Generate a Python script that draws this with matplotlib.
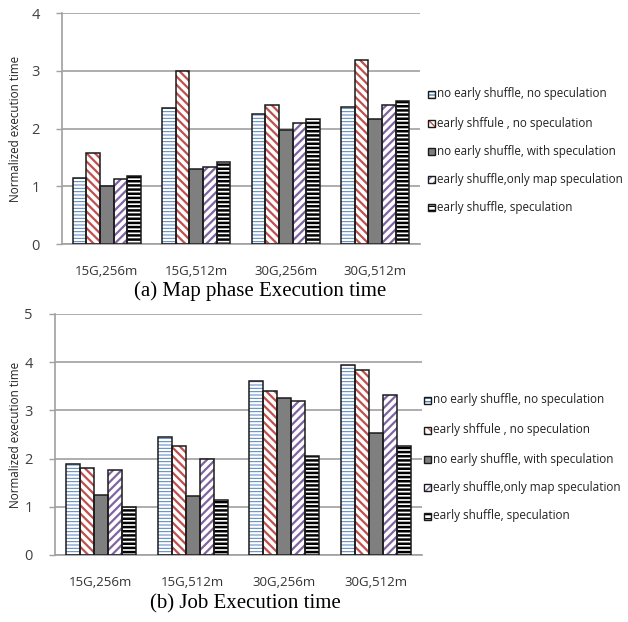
import matplotlib
matplotlib.use('Agg')
import matplotlib.pyplot as plt
import numpy as np
from matplotlib.patches import Rectangle

plt.rcParams['font.family'] = ['Open Sans', 'DejaVu Sans']

categories = ['15G,256m', '15G,512m', '30G,256m', '30G,512m']
series_labels = ['no early shuffle, no speculation',
                 'early shffule , no speculation',
                 'no early shuffle, with speculation',
                 'early shuffle,only map speculation',
                 'early shuffle, speculation']

# (a) map phase
map_no_shuffle_no_spec = [1.15, 2.36, 2.25, 2.38]
map_early_no_spec = [1.57, 3.00, 2.40, 3.18]
map_no_shuffle_spec = [1.00, 1.30, 1.98, 2.17]
map_early_map_spec = [1.13, 1.34, 2.09, 2.40]
map_early_spec = [1.17, 1.42, 2.17, 2.48]

# (b) whole job
job_no_shuffle_no_spec = [1.89, 2.44, 3.60, 3.94]
job_early_no_spec = [1.80, 2.26, 3.40, 3.83]
job_no_shuffle_spec = [1.24, 1.22, 3.26, 2.54]
job_early_map_spec = [1.76, 1.99, 3.19, 3.31]
job_early_spec = [1.00, 1.14, 2.05, 2.26]

# face, hatch, hatch colour, hatch width
styles = [('white', '-----', '#4F81BD', 0.7),
          ('white', '\\\\\\\\', '#C0504D', 1.6),
          ('#7F7F7F', '', '#7F7F7F', 1.0),
          ('white', '////', '#8064A2', 1.6),
          ('white', '----', 'black', 1.8)]

grey = '#A0A0A0'
text_col = '#404040'
width = 0.153
W, H = 628, 622


def fx(px):
    return px / W


def fy(py):
    return 1 - py / H


def draw_legend(x0, ys, fs, box=7):
    for i, lab in enumerate(series_labels):
        face, hatch, hcol, hlw = styles[i]
        yc = ys[i]
        with plt.rc_context({'hatch.linewidth': 1.0}):
            r = Rectangle((fx(x0), fy(yc + box / 2)), box / W, box / H,
                          facecolor=face, edgecolor=hcol, hatch=hatch,
                          linewidth=0, transform=fig.transFigure)
        fig.patches.append(r)
        fig.patches.append(Rectangle((fx(x0), fy(yc + box / 2)), box / W, box / H,
                                     fill=False, edgecolor='#1a1a1a', linewidth=1.0,
                                     transform=fig.transFigure))
        fig.text(fx(x0 + box + 2), fy(yc), lab, fontsize=fs, color='#222222',
                 ha='left', va='center')


def draw_panel(ax, series, ymax, caption, cap_xy, label_x):
    x = np.arange(len(categories))
    for i, vals in enumerate(series):
        face, hatch, hcol, hlw = styles[i]
        pos = x + (i - 2) * width
        with plt.rc_context({'hatch.linewidth': hlw}):
            bars = ax.bar(pos, vals, width, color=face, edgecolor=hcol,
                          hatch=hatch, linewidth=0, zorder=2)
            for b in bars:
                if hasattr(b, 'set_hatch_linewidth'):
                    b.set_hatch_linewidth(hlw)
        ax.bar(pos, vals, width, fill=False, edgecolor='#1a1a1a',
               linewidth=1.1, zorder=3)

    ax.set_xlim(-0.5, len(categories) - 0.5)
    ax.set_ylim(0, ymax)
    ax.set_yticks(range(ymax + 1))
    ax.set_xticks(x)
    ax.set_xticklabels(categories, fontsize=9.5, color='#333333')
    ax.tick_params(axis='x', length=0, pad=15)
    ax.tick_params(axis='y', length=4, width=1, color=grey, pad=12,
                   labelsize=10.5, labelcolor=text_col)
    ax.grid(axis='y', color=grey, linewidth=1.2, zorder=0)
    ax.set_axisbelow(True)
    for s in ['top', 'right']:
        ax.spines[s].set_visible(False)
    for s in ['left', 'bottom']:
        ax.spines[s].set_color(grey)
        ax.spines[s].set_linewidth(1.2)
    ax.set_ylabel('Normalized execution time', fontsize=8.4, color='#222222')
    ax.yaxis.set_label_coords(label_x, 0.5)
    fig.text(cap_xy[0], cap_xy[1], caption, ha='center', va='center',
             fontsize=15, family='Liberation Serif', color='black')


fig = plt.figure(figsize=(6.28, 6.22), dpi=100)
ax1 = fig.add_axes([fx(62), fy(244), fx(420 - 62), (244 - 13) / H])
ax2 = fig.add_axes([fx(55), fy(555), fx(422 - 55), (555 - 314) / H])

draw_panel(ax1, [map_no_shuffle_no_spec, map_early_no_spec, map_no_shuffle_spec,
                 map_early_map_spec, map_early_spec],
           4, '(a) Map phase Execution time', (fx(260), fy(291)), -0.112)
draw_panel(ax2, [job_no_shuffle_no_spec, job_early_no_spec, job_no_shuffle_spec,
                 job_early_map_spec, job_early_spec],
           5, '(b) Job Execution time', (fx(245), fy(604)), -0.090)

# labels sized so the longest one just fits inside the right edge
draw_legend(428, [94, 123, 151, 179, 207], 8.4)
draw_legend(424, [400, 430, 459, 487, 516], 8.5)

fig.savefig('out.png', dpi=100)
